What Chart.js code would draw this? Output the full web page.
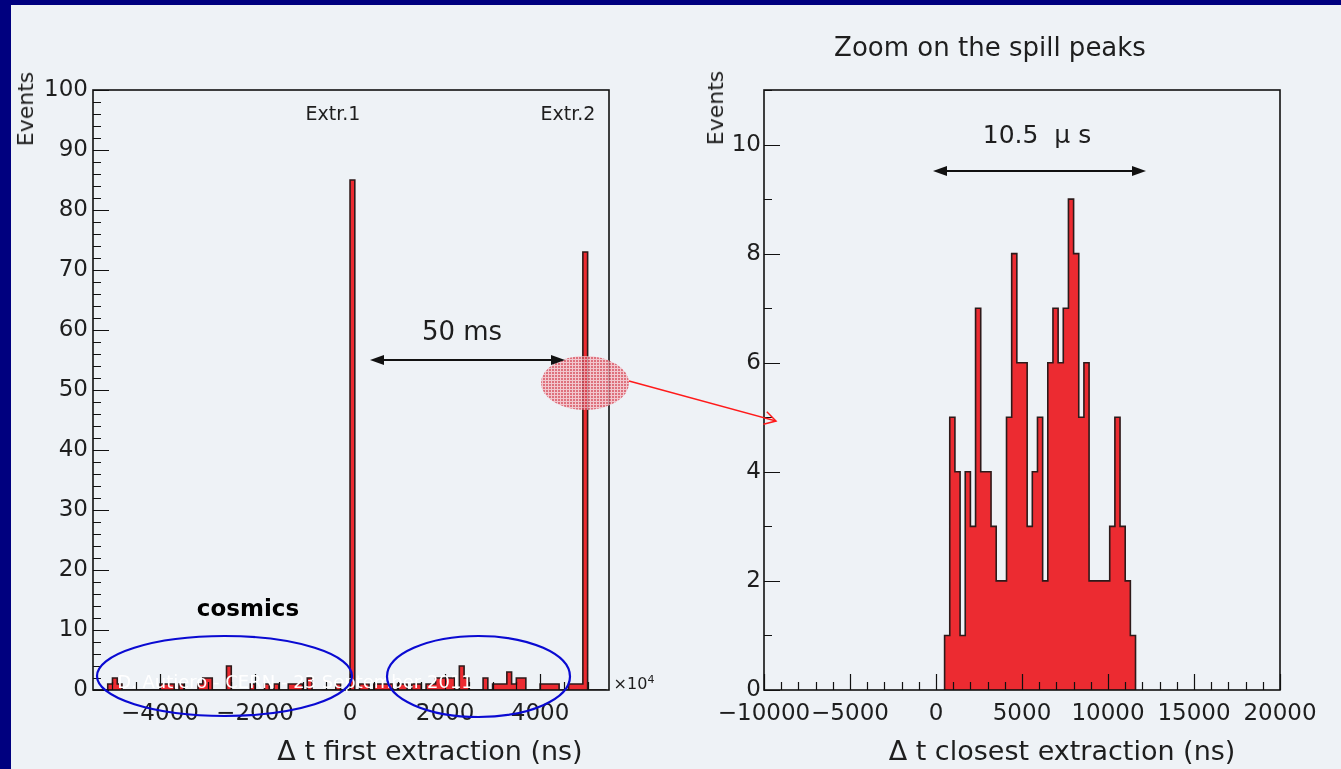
<!DOCTYPE html>
<html>
<head>
<meta charset="utf-8">
<script src="https://cdn.jsdelivr.net/npm/chart.js@4.4.1/dist/chart.umd.min.js"></script>
<style>
html, body { margin: 0; padding: 0; }
body { width: 1341px; height: 769px; background: #00007f; position: relative; overflow: hidden;
       font-family: 'DejaVu Sans', sans-serif; color: #1e1e1e; }
#panel { position: absolute; left: 11px; top: 5px; right: 0; bottom: 0; background: #eef2f6; }
canvas { position: absolute; top: 0; }
#leftChart { left: 0; }
#rightChart { left: 670px; }
#marks { position: absolute; left: 0; top: 0; }
.t { position: absolute; white-space: pre; line-height: 1; transform: translate(-50%, -50%); }
.ev { transform: translate(-50%, -50%) rotate(-90deg); font-size: 22px; }
</style>
</head>
<body>
<div id="panel"></div>
<canvas id="leftChart" width="670" height="769"></canvas>
<canvas id="rightChart" width="671" height="769"></canvas>

<div class="t ev" style="left:26px; top:109px;">Events</div>
<div class="t ev" style="left:716px; top:108px;">Events</div>
<div class="t" style="left:990px; top:47px; font-size:26px;">Zoom on the spill peaks</div>
<div class="t" style="left:333px; top:113px; font-size:19px;">Extr.1</div>
<div class="t" style="left:568px; top:113px; font-size:19px;">Extr.2</div>
<div class="t" style="left:462px; top:331px; font-size:26px;">50 ms</div>
<div class="t" style="left:1037px; top:134px; font-size:25px;">10.5  μ s</div>
<div class="t" style="left:248px; top:608px; font-size:23px; font-weight:bold; color:#000;">cosmics</div>
<div class="t" style="left:634px; top:683px; font-size:16px;">×10<sup style="font-size:11px;">4</sup></div>
<div class="t" style="left:430px; top:750px; font-size:27px;">Δ t first extraction (ns)</div>
<div class="t" style="left:1062px; top:750px; font-size:27px;">Δ t closest extraction (ns)</div>
<div class="t" style="left:295px; top:682px; font-size:18px; color:#fff;">D. Autiero - CERN - 23 September 2011</div>

<svg id="marks" width="1341" height="769">
  <defs>
    <pattern id="dots" width="3" height="3" patternUnits="userSpaceOnUse">
      <rect width="3" height="3" fill="#f3bcc4"/>
      <rect width="2" height="2" fill="#d9505f"/>
    </pattern>
  </defs>
  <ellipse cx="585" cy="383" rx="44" ry="27" fill="url(#dots)" opacity="0.8"/>
  <line x1="629" y1="381" x2="776" y2="421" stroke="#ff1a1a" stroke-width="1.5"/>
  <polyline points="763.4,424.3 776,421 766.8,411.8" fill="none" stroke="#ff1a1a" stroke-width="1.5"/>
  <line x1="376" y1="360" x2="559" y2="360" stroke="#111" stroke-width="2"/>
  <polygon points="370,360 384,355 384,365" fill="#111"/>
  <polygon points="565,360 551,355 551,365" fill="#111"/>
  <line x1="939" y1="171" x2="1140" y2="171" stroke="#111" stroke-width="2"/>
  <polygon points="933,171 947,166 947,176" fill="#111"/>
  <polygon points="1146,171 1132,166 1132,176" fill="#111"/>
  <ellipse cx="224.5" cy="676" rx="127.5" ry="40" fill="none" stroke="#0a0ad2" stroke-width="2.2"/>
  <ellipse cx="478.5" cy="676.5" rx="91.5" ry="40.5" fill="none" stroke="#0a0ad2" stroke-width="2.2"/>
</svg>

<script>
// left panel: time w.r.t. first extraction, units of 1e4 ns, bins 100 wide
const leftBinWidth = 100;
const leftHistMin = -5400;
const leftHistMax = 5400;
const spillBins = [0, 4900];
const spillCounts = [85, 73];
const cosmicBins = [-5100, -5000, -4900, -4000, -3900, -3800, -3600, -3200, -3100, -3000, -2600,
                    -2100, -1800, -1600, -1300, -1200, -1100, -900, -300,
                    200, 300, 500, 600, 700, 800, 1000, 1100, 1300, 1400, 1600, 1700,
                    1800, 1900, 2000, 2100, 2300, 2400, 2800, 3000, 3100, 3200, 3300, 3400,
                    3500, 3600, 4000, 4100, 4200, 4300, 4600, 4700, 4800];
const cosmicCounts = [1, 2, 1, 1, 1, 1, 1, 1, 2, 2, 4,
                      1, 1, 1, 1, 1, 1, 2, 1,
                      1, 1, 1, 1, 1, 1, 1, 1, 1, 1, 1, 1,
                      2, 2, 2, 2, 4, 2, 2, 1, 1, 1, 3, 1,
                      2, 2, 1, 1, 1, 1, 1, 1, 1];
const leftXTicks = [-4000, -2000, 0, 2000, 4000];
const leftYTicks = [0, 10, 20, 30, 40, 50, 60, 70, 80, 90, 100];

// right panel: zoom on the spill peaks, 300 ns bins from 500 ns
const zoomBinStart = 500;
const zoomBinWidth = 300;
const zoomCounts = [1, 5, 4, 1, 4, 3, 7, 4, 4, 3, 2, 2, 5, 8, 6, 6, 3, 4, 5, 2,
                    6, 7, 6, 7, 9, 8, 5, 6, 2, 2, 2, 2, 3, 5, 3, 2, 1];
const rightXTicks = [-10000, -5000, 0, 5000, 10000, 15000, 20000];
const rightYTicks = [0, 2, 4, 6, 8, 10];

const histFill = '#ec2b31';
const histLine = '#2d1a1a';
const tickFont = { family: 'DejaVu Sans', size: 23 };

// histogram outline as a stepped line through the bin low edges
function stepPoints(lowEdges, counts, width) {
    const pts = [{ x: lowEdges[0], y: 0 }];
    lowEdges.forEach((e, i) => pts.push({ x: e, y: counts[i] }));
    pts.push({ x: lowEdges[lowEdges.length - 1] + width, y: 0 });
    return pts;
}

const leftEdges = [];
const leftCounts = [];
for (let e = leftHistMin; e < leftHistMax; e += leftBinWidth) {
    let c = 0;
    const si = spillBins.indexOf(e);
    if (si >= 0) c += spillCounts[si];
    const ci = cosmicBins.indexOf(e);
    if (ci >= 0) c += cosmicCounts[ci];
    leftEdges.push(e);
    leftCounts.push(c);
}
const zoomEdges = zoomCounts.map((c, i) => zoomBinStart + i * zoomBinWidth);

// ROOT-like frame with ticks pointing inside
const frameTicks = {
    id: 'frameTicks',
    afterDatasetsDraw(chart, args, o) {
        const { ctx, chartArea: a, scales: { x, y } } = chart;
        ctx.save();
        ctx.strokeStyle = '#111';
        ctx.lineWidth = 1.2;
        ctx.beginPath();
        for (let v = Math.ceil(x.min / o.xMinor) * o.xMinor; v <= x.max; v += o.xMinor) {
            const px = Math.round(x.getPixelForValue(v)) + 0.5;
            const len = (v % o.xMajor === 0) ? 16 : 8;
            ctx.moveTo(px, a.bottom);
            ctx.lineTo(px, a.bottom - len);
        }
        for (let v = 0; v <= y.max; v += o.yMinor) {
            const py = Math.round(y.getPixelForValue(v)) + 0.5;
            const len = (v % o.yMajor === 0) ? 16 : 8;
            ctx.moveTo(a.left, py);
            ctx.lineTo(a.left + len, py);
        }
        ctx.stroke();
        ctx.lineWidth = 1.6;
        ctx.strokeRect(a.left, a.top, a.right - a.left, a.bottom - a.top);
        ctx.restore();
    }
};

function makeHist(id, cfg) {
    const ctx = document.getElementById(id).getContext('2d');
    return new Chart(ctx, {
        type: 'line',
        data: {
            datasets: [{
                data: cfg.points,
                stepped: 'before',
                fill: 'origin',
                backgroundColor: histFill,
                borderColor: histLine,
                borderWidth: 1.6,
                pointRadius: 0
            }]
        },
        options: {
            animation: false,
            responsive: false,
            devicePixelRatio: 1,
            layout: { padding: { left: 0, right: 61, top: 90, bottom: 0 } },
            plugins: {
                legend: { display: false },
                tooltip: { enabled: false },
                frameTicks: cfg.ticks
            },
            scales: {
                x: {
                    type: 'linear',
                    bounds: 'data',
                    min: cfg.xMin,
                    max: cfg.xMax,
                    grid: { display: false, drawTicks: false, tickLength: 0 },
                    border: { display: false },
                    afterBuildTicks: s => { s.ticks = cfg.xTicks.map(v => ({ value: v })); },
                    afterFit: s => { s.height = 79; },
                    ticks: {
                        font: tickFont,
                        color: '#1e1e1e',
                        padding: 10,
                        maxRotation: 0,
                        autoSkip: false,
                        callback: v => v < 0 ? '\u2212' + Math.abs(v) : String(v)
                    }
                },
                y: {
                    type: 'linear',
                    bounds: 'data',
                    min: 0,
                    max: cfg.yMax,
                    grid: { display: false, drawTicks: false, tickLength: 0 },
                    border: { display: false },
                    afterBuildTicks: s => { s.ticks = cfg.yTicks.map(v => ({ value: v })); },
                    afterFit: s => { s.width = cfg.yWidth; },
                    ticks: {
                        font: tickFont,
                        color: '#1e1e1e',
                        padding: cfg.yPad,
                        autoSkip: false
                    }
                }
            }
        },
        plugins: [frameTicks]
    });
}

makeHist('leftChart', {
    points: stepPoints(leftEdges, leftCounts, leftBinWidth),
    xMin: -5410, xMax: 5450, yMax: 100,
    xTicks: leftXTicks, yTicks: leftYTicks,
    yWidth: 93, yPad: 5,
    ticks: { xMinor: 500, xMajor: 2000, yMinor: 2, yMajor: 10 }
});

makeHist('rightChart', {
    points: stepPoints(zoomEdges, zoomCounts, zoomBinWidth),
    xMin: -10000, xMax: 20000, yMax: 11,
    xTicks: rightXTicks, yTicks: rightYTicks,
    yWidth: 94, yPad: 3,
    ticks: { xMinor: 1000, xMajor: 5000, yMinor: 1, yMajor: 2 }
});
</script>
</body>
</html>
